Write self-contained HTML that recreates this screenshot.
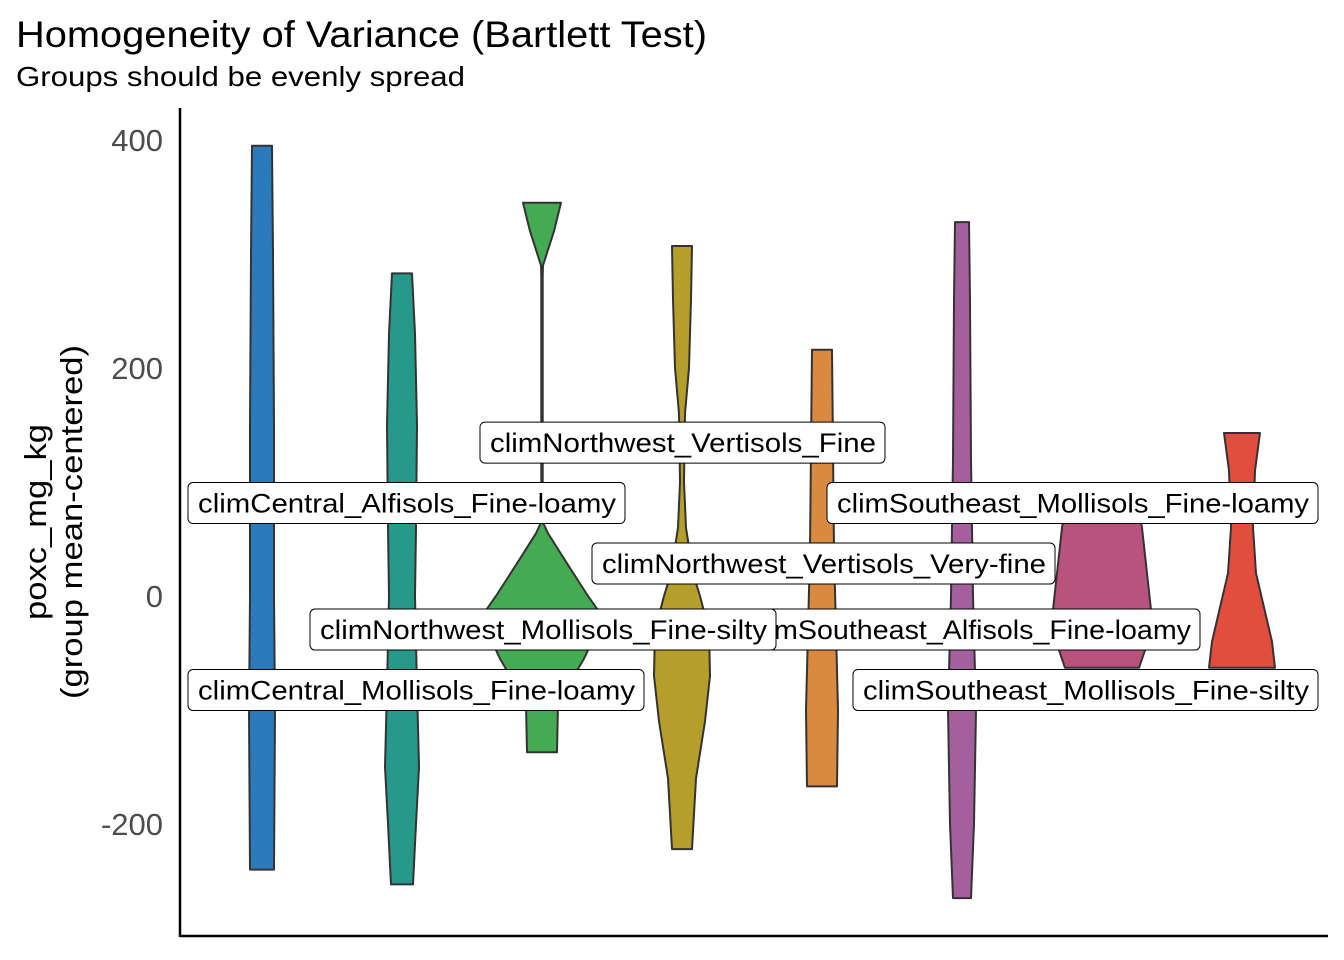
<!DOCTYPE html>
<html><head><meta charset="utf-8"><style>
html,body{margin:0;padding:0;background:#fff;}
svg{display:block;font-family:"Liberation Sans",sans-serif;}
</style></head><body>
<svg id="chart" width="1344" height="960" viewBox="0 0 1344 960">
<text x="16" y="47" font-size="37" fill="#000" textLength="691" lengthAdjust="spacingAndGlyphs">Homogeneity of Variance (Bartlett Test)</text>
<text x="16" y="86" font-size="28" fill="#000" textLength="449" lengthAdjust="spacingAndGlyphs">Groups should be evenly spread</text>
<g id="violins"></g>
<g id="labels"></g>
<g id="yaxis"></g>
<line x1="180" y1="936" x2="1328" y2="936" stroke="#000" stroke-width="2.5"/>
<line x1="180" y1="108" x2="180" y2="937" stroke="#000" stroke-width="2.5"/>
<g transform="translate(0,522) rotate(-90)">
<text x="0" y="46" font-size="31" text-anchor="middle" fill="#000" textLength="196" lengthAdjust="spacingAndGlyphs">poxc_mg_kg</text>
<text x="0" y="82" font-size="31" text-anchor="middle" fill="#000" textLength="354" lengthAdjust="spacingAndGlyphs">(group mean-centered)</text>
</g>
</svg>
<script>
const groups = ["climCentral_Alfisols_Fine-loamy","climCentral_Mollisols_Fine-loamy","climNorthwest_Mollisols_Fine-silty","climNorthwest_Vertisols_Fine","climNorthwest_Vertisols_Very-fine","climSoutheast_Alfisols_Fine-loamy","climSoutheast_Mollisols_Fine-loamy","climSoutheast_Mollisols_Fine-silty"];
const colors = ["#2b7bba","#26998a","#44ab52","#b59e2a","#d98940","#a4609d","#b9527d","#e34d3e"];
const yTicks = [400,200,0,-200];
// density profiles: [value, relative density]
const dens0 = [[395,10],[300,11],[150,12],[0,12],[-100,13],[-240,12]];
const dens1 = [[283,10],[230,13],[150,15],[60,14],[0,13],[-80,15],[-150,17],[-200,14],[-253,11]];
const dens2 = [[345,19],[320,12],[290,1],[280,0.7],[65,0.7],[55,6],[30,24],[0,46],[-15,58],[-40,50],[-55,42],[-70,32],[-95,16],[-137,15]];
const dens3 = [[307,10],[260,9],[200,7],[160,3],[100,2],[60,4],[20,11],[0,18],[-30,27],[-70,28],[-110,23],[-160,14],[-222,10]];
const dens4 = [[216,10],[130,11],[40,12],[-30,14],[-100,16],[-167,15]];
const dens5 = [[328,7],[260,8],[120,9],[0,11],[-100,14],[-200,12],[-265,9]];
const dens6 = [[78,36],[60,40],[20,45],[-20,50],[-45,44],[-63,37]];
const dens7 = [[143,18],[110,13],[60,11],[20,14],[-10,22],[-40,30],[-63,33]];
const densities = [dens0,dens1,dens2,dens3,dens4,dens5,dens6,dens7];
const labelText = ["climCentral_Alfisols_Fine-loamy","climNorthwest_Vertisols_Fine","climSoutheast_Mollisols_Fine-loamy","climNorthwest_Vertisols_Very-fine","climSoutheast_Alfisols_Fine-loamy","climNorthwest_Mollisols_Fine-silty","climCentral_Mollisols_Fine-loamy","climSoutheast_Mollisols_Fine-silty"];
const labelVal = [82,135,82,29,-29,-29,-82,-82];

const NS="http://www.w3.org/2000/svg";
function yS(v){return 596 - v*1.14;}
function xS(i){return 262 + i*140;}
function wS(d){return d;}

const vg=document.getElementById('violins');
densities.forEach((d,i)=>{
  const cx=xS(i);
  let pts=d.map(p=>[cx+wS(p[1]),yS(p[0])]);
  let left=d.slice().reverse().map(p=>[cx-wS(p[1]),yS(p[0])]);
  const all=pts.concat(left);
  const p=document.createElementNS(NS,'path');
  p.setAttribute('d','M'+all.map(q=>q[0].toFixed(1)+','+q[1].toFixed(1)).join('L')+'Z');
  p.setAttribute('fill',colors[i]);
  p.setAttribute('stroke','#333');
  p.setAttribute('stroke-width','2');
  p.setAttribute('stroke-linejoin','round');
  
  
  vg.appendChild(p);
});

const lbLeft=[188,480,827,592,737,310,188,853];
const lbW=[437,405,491,463,463,466,456,465];
const lg=document.getElementById('labels');
labelText.forEach((t,i)=>{
  const g=document.createElementNS(NS,'g');
  
  
  const cy=yS(labelVal[i]);
  const r=document.createElementNS(NS,'rect');
  r.setAttribute('x',lbLeft[i]);r.setAttribute('y',cy-20);
  r.setAttribute('width',lbW[i]);r.setAttribute('height',41);
  r.setAttribute('rx',5);r.setAttribute('fill','#fff');
  r.setAttribute('stroke','#000');r.setAttribute('stroke-width','1');
  g.appendChild(r);
  const tx=document.createElementNS(NS,'text');
  tx.setAttribute('x',lbLeft[i]+10);tx.setAttribute('y',cy+10);
  tx.setAttribute('font-size','27');
  tx.setAttribute('textLength',lbW[i]-19);
  tx.setAttribute('lengthAdjust','spacingAndGlyphs');
  tx.textContent=t;
  g.appendChild(tx);
  lg.appendChild(g);
});

const yg=document.getElementById('yaxis');
yTicks.forEach(v=>{
  const t=document.createElementNS(NS,'text');
  t.setAttribute('x',163);t.setAttribute('y',yS(v)+11);
  t.setAttribute('font-size','31');t.setAttribute('text-anchor','end');
  t.setAttribute('fill','#4d4d4d');
  t.textContent=v;
  
  
  yg.appendChild(t);
});
</script>
</body></html>
